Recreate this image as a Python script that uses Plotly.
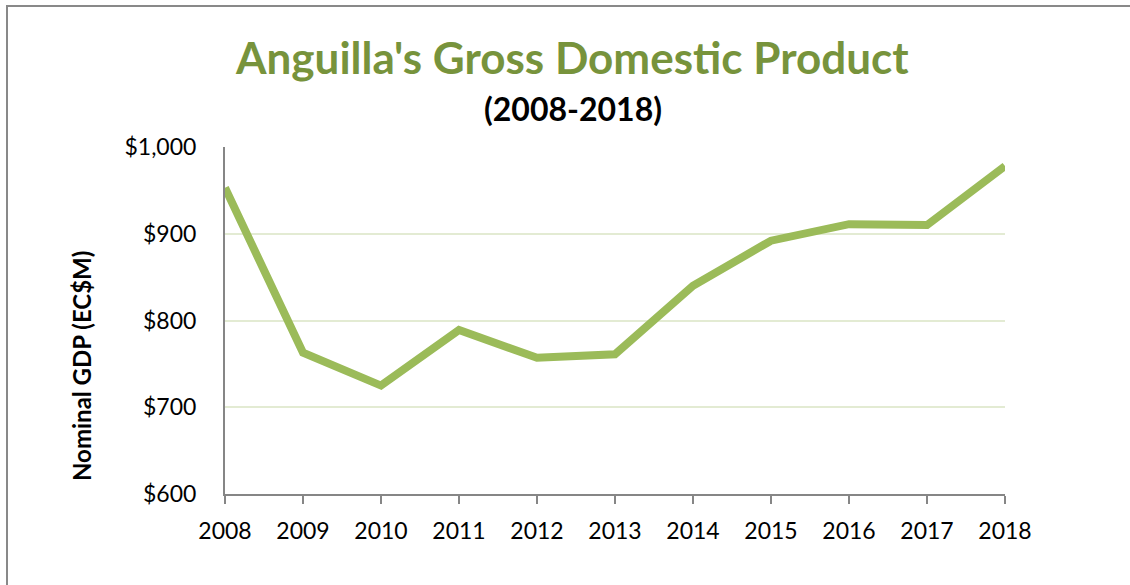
import plotly.graph_objects as go

years = [2008, 2009, 2010, 2011, 2012, 2013, 2014, 2015, 2016, 2017, 2018]
gdp = [953, 763, 725, 789, 757, 761, 840, 892, 911, 910, 978]
y_ticks = [600, 700, 800, 900, 1000]
y_tick_labels = ["$600", "$700", "$800", "$900", "$1,000"]

title_text = "Anguilla's Gross Domestic Product"
subtitle_text = "(2008-2018)"
y_title = "Nominal GDP (EC$M)"

FONT = "Lato"
W, H = 1130, 585
L, R, T, B = 225, 125, 147, 91
pw, ph = W - L - R, H - T - B


def px_x(x):
    return (x - L) / pw


def px_y(y):
    return (H - B - y) / ph


fig = go.Figure()
fig.add_trace(go.Scatter(
    x=years, y=gdp, mode="lines",
    line=dict(color="#9BBB59", width=8),
    hoverinfo="x+y", showlegend=False,
))

fig.update_layout(
    width=W, height=H,
    margin=dict(l=L, r=R, t=T, b=B),
    paper_bgcolor="white", plot_bgcolor="white",
    font=dict(family=FONT, color="black"),
    xaxis=dict(
        range=[2008, 2018], tickvals=years, ticktext=[str(y) for y in years],
        showgrid=False, zeroline=False,
        showline=True, linecolor="#868686", linewidth=2,
        ticks="outside", ticklen=8, tickwidth=2, tickcolor="#868686",
        ticklabelstandoff=7,
        tickfont=dict(family=FONT, size=23, color="black"),
        fixedrange=True,
    ),
    yaxis=dict(
        range=[600, 1000], tickvals=y_ticks, ticktext=y_tick_labels,
        showgrid=True, gridcolor="#E3EBD3", gridwidth=2,
        zeroline=False,
        showline=True, linecolor="#868686", linewidth=2,
        ticks="", ticklabelstandoff=22,
        tickfont=dict(family=FONT, size=23, color="black"),
        fixedrange=True,
    ),
    annotations=[
        dict(text=f"<b>{title_text}</b>", xref="paper", yref="paper",
             x=px_x(572), y=px_y(57), xanchor="center", yanchor="middle",
             showarrow=False, font=dict(family=FONT, size=44, color="#77933C")),
        dict(text=f"<b>{subtitle_text}</b>", xref="paper", yref="paper",
             x=px_x(573), y=px_y(108), xanchor="center", yanchor="middle",
             showarrow=False, font=dict(family=FONT, size=32, color="black")),
        dict(text=f"<b>{y_title}</b>", xref="paper", yref="paper",
             x=px_x(81), y=px_y(366), xanchor="center", yanchor="middle",
             textangle=-90, showarrow=False,
             font=dict(family=FONT, size=24, color="black")),
    ],
    shapes=[
        dict(type="rect", xref="paper", yref="paper",
             x0=px_x(7), x1=px_x(1140), y0=px_y(6), y1=px_y(600),
             line=dict(color="#898989", width=2), fillcolor="rgba(0,0,0,0)",
             layer="below"),
    ],
)

fig.write_html(
    "out.html",
    config={"displayModeBar": False},
    post_script="document.body.style.margin='0px';document.body.style.overflow='hidden';",
)
